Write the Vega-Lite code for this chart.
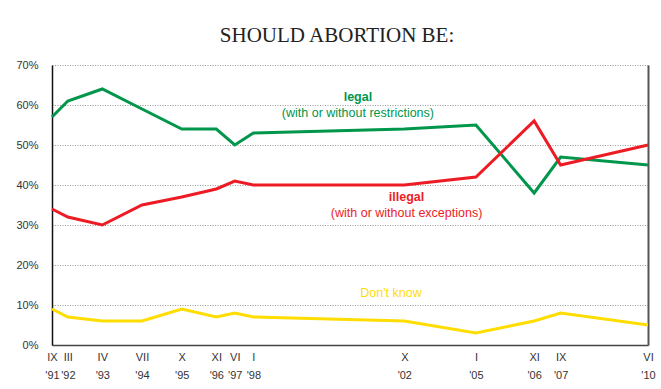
{
  "$schema": "https://vega.github.io/schema/vega-lite/v6.json",
  "width": 596,
  "height": 280,
  "autosize": {"type": "none"},
  "padding": {"left": 52, "top": 65, "right": 13, "bottom": 44},
  "background": "white",
  "title": {
    "text": "SHOULD ABORTION BE:",
    "font": "Liberation Serif",
    "fontSize": 21,
    "fontWeight": "normal",
    "color": "#222222",
    "anchor": "middle",
    "dx": -13,
    "baseline": "alphabetic",
    "offset": -4
  },
  "config": {
    "view": {"stroke": null},
    "font": "Liberation Sans"
  },
  "datasets": {
    "series": [
      {"date": "1991-09-15", "series": "legal", "value": 57},
      {"date": "1992-03-15", "series": "legal", "value": 61},
      {"date": "1993-04-15", "series": "legal", "value": 64},
      {"date": "1994-07-15", "series": "legal", "value": 59},
      {"date": "1995-10-15", "series": "legal", "value": 54},
      {"date": "1996-11-15", "series": "legal", "value": 54},
      {"date": "1997-06-15", "series": "legal", "value": 50},
      {"date": "1998-01-15", "series": "legal", "value": 53},
      {"date": "2002-10-15", "series": "legal", "value": 54},
      {"date": "2005-01-15", "series": "legal", "value": 55},
      {"date": "2006-11-15", "series": "legal", "value": 38},
      {"date": "2007-09-15", "series": "legal", "value": 47},
      {"date": "2010-06-15", "series": "legal", "value": 45},
      {"date": "1991-09-15", "series": "illegal", "value": 34},
      {"date": "1992-03-15", "series": "illegal", "value": 32},
      {"date": "1993-04-15", "series": "illegal", "value": 30},
      {"date": "1994-07-15", "series": "illegal", "value": 35},
      {"date": "1995-10-15", "series": "illegal", "value": 37},
      {"date": "1996-11-15", "series": "illegal", "value": 39},
      {"date": "1997-06-15", "series": "illegal", "value": 41},
      {"date": "1998-01-15", "series": "illegal", "value": 40},
      {"date": "2002-10-15", "series": "illegal", "value": 40},
      {"date": "2005-01-15", "series": "illegal", "value": 42},
      {"date": "2006-11-15", "series": "illegal", "value": 56},
      {"date": "2007-09-15", "series": "illegal", "value": 45},
      {"date": "2010-06-15", "series": "illegal", "value": 50},
      {"date": "1991-09-15", "series": "dontknow", "value": 9},
      {"date": "1992-03-15", "series": "dontknow", "value": 7},
      {"date": "1993-04-15", "series": "dontknow", "value": 6},
      {"date": "1994-07-15", "series": "dontknow", "value": 6},
      {"date": "1995-10-15", "series": "dontknow", "value": 9},
      {"date": "1996-11-15", "series": "dontknow", "value": 7},
      {"date": "1997-06-15", "series": "dontknow", "value": 8},
      {"date": "1998-01-15", "series": "dontknow", "value": 7},
      {"date": "2002-10-15", "series": "dontknow", "value": 6},
      {"date": "2005-01-15", "series": "dontknow", "value": 3},
      {"date": "2006-11-15", "series": "dontknow", "value": 6},
      {"date": "2007-09-15", "series": "dontknow", "value": 8},
      {"date": "2010-06-15", "series": "dontknow", "value": 5}
    ],
    "heads": [
      {"date": "2001-04-30", "value": 62, "series": "legal", "label": "legal"},
      {"date": "2002-11-10", "value": 37, "series": "illegal", "label": "illegal"}
    ],
    "subs": [
      {"date": "2001-04-30", "value": 58, "series": "legal", "label": "(with or without restrictions)"},
      {"date": "2002-11-10", "value": 33, "series": "illegal", "label": "(with or without exceptions)"},
      {"date": "2002-05-15", "value": 13, "series": "dontknow", "label": "Don't know"}
    ]
  },
  "layer": [
    {
      "data": {"name": "series"},
      "mark": {"type": "line", "strokeWidth": 3, "strokeJoin": "miter", "clip": false},
      "encoding": {
        "x": {
          "field": "date",
          "type": "temporal",
          "scale": {"nice": false},
          "axis": {
            "title": null,
            "values": [
              {"year": 1991, "month": 9, "date": 15},
              {"year": 1992, "month": 3, "date": 15},
              {"year": 1993, "month": 4, "date": 15},
              {"year": 1994, "month": 7, "date": 15},
              {"year": 1995, "month": 10, "date": 15},
              {"year": 1996, "month": 11, "date": 15},
              {"year": 1997, "month": 6, "date": 15},
              {"year": 1998, "month": 1, "date": 15},
              {"year": 2002, "month": 10, "date": 15},
              {"year": 2005, "month": 1, "date": 15},
              {"year": 2006, "month": 11, "date": 15},
              {"year": 2007, "month": 9, "date": 15},
              {"year": 2010, "month": 6, "date": 15}
            ],
            "labelExpr": "[['I','II','III','IV','V','VI','VII','VIII','IX','X','XI','XII'][month(datum.value)], \"'\" + timeFormat(datum.value, '%y')]",
            "labelFont": "Liberation Sans",
            "labelFontSize": 11,
            "labelColor": "#333333",
            "labelLineHeight": 18,
            "labelPadding": 6,
            "labelOverlap": false,
            "labelBound": false,
            "labelFlush": false,
            "ticks": false,
            "grid": false,
            "domainColor": "#444444",
            "domainWidth": 1.5
          }
        },
        "y": {
          "field": "value",
          "type": "quantitative",
          "scale": {"domain": [0, 70], "nice": false},
          "axis": {
            "title": null,
            "values": [0, 10, 20, 30, 40, 50, 60, 70],
            "labelExpr": "datum.value + '%'",
            "labelFont": "Liberation Sans",
            "labelFontSize": 11,
            "labelColor": "#333333",
            "labelPadding": 14,
            "ticks": false,
            "grid": true,
            "gridColor": "#999999",
            "gridDash": [1, 1.5],
            "gridWidth": 1,
            "domainColor": "#111111",
            "domainWidth": 1.5
          }
        },
        "color": {
          "field": "series",
          "type": "nominal",
          "scale": {"domain": ["legal", "illegal", "dontknow"], "range": ["#00964B", "#ED1C24", "#FFDD00"]},
          "legend": null
        }
      }
    },
    {
      "data": {"name": "heads"},
      "mark": {"type": "text", "fontWeight": "bold", "fontSize": 12.5, "baseline": "middle", "align": "center", "font": "Liberation Sans"},
      "encoding": {
        "x": {"field": "date", "type": "temporal"},
        "y": {
          "field": "value",
          "type": "quantitative",
          "axis": {"orient": "right", "title": null, "labels": false, "ticks": false, "grid": false, "domainColor": "#555555", "domainWidth": 2}
        },
        "text": {"field": "label"},
        "color": {"field": "series", "type": "nominal", "legend": null}
      }
    },
    {
      "data": {"name": "subs"},
      "mark": {"type": "text", "fontSize": 12.5, "baseline": "middle", "align": "center", "font": "Liberation Sans"},
      "encoding": {
        "x": {"field": "date", "type": "temporal"},
        "y": {"field": "value", "type": "quantitative", "axis": null},
        "text": {"field": "label"},
        "color": {"field": "series", "type": "nominal", "legend": null}
      }
    }
  ],
  "resolve": {"axis": {"y": "independent"}}
}
